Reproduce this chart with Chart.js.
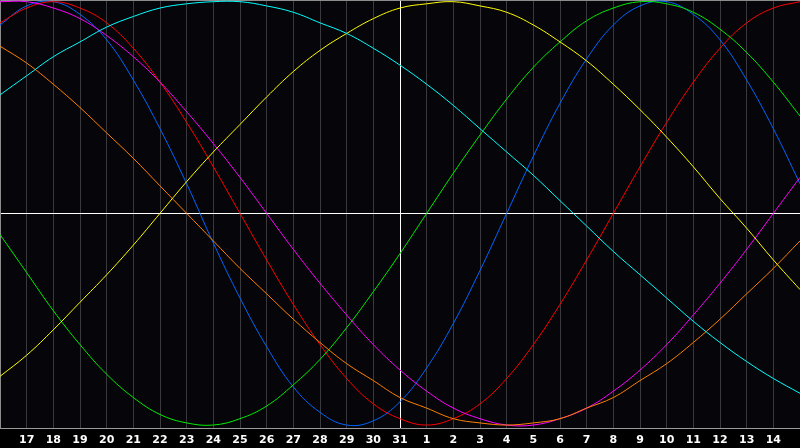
<!DOCTYPE html>
<html lang="en">
<head>
  <meta charset="UTF-8" />
  <title>Biorhythm</title>
  <script src="https://cdn.jsdelivr.net/npm/chart.js"></script>
  <style>
    html, body { margin: 0; padding: 0; background: #000; }
    canvas { display: block; }
  </style>
</head>
<body>
  <canvas id="bioChart" width="800" height="448"></canvas>

  <script>
    // day labels under the grid, today (31) sits in the middle
    const dayLabels = ['17','18','19','20','21','22','23','24','25','26','27','28','29','30','31',
                       '1','2','3','4','5','6','7','8','9','10','11','12','13','14'];
    const todayIndex = 14;

    // values per day, first point is the day before "17", last the day after "14"
    const physical = [0.89, 0.98, 1.00, 0.94, 0.82, 0.63, 0.40, 0.14, -0.14, -0.40, -0.63, -0.82, -0.94, -1.00, -0.98, -0.89,
                      -0.73, -0.52, -0.27, 0.00, 0.27, 0.52, 0.73, 0.89, 0.98, 1.00, 0.94, 0.82, 0.63, 0.40, 0.14];
    const emotional = [0.90, 0.97, 1.00, 0.97, 0.90, 0.78, 0.62, 0.43, 0.22, 0.00, -0.22, -0.43, -0.62, -0.78, -0.90, -0.97,
                       -1.00, -0.97, -0.90, -0.78, -0.62, -0.43, -0.22, 0.00, 0.22, 0.43, 0.62, 0.78, 0.90, 0.97, 1.00];
    const intellectual = [-0.10, -0.28, -0.46, -0.62, -0.76, -0.87, -0.95, -0.99, -1.00, -0.97, -0.91, -0.81, -0.69, -0.54, -0.37, -0.19,
                          0.00, 0.19, 0.37, 0.54, 0.69, 0.81, 0.91, 0.97, 1.00, 0.99, 0.95, 0.87, 0.76, 0.62, 0.46];
    const aesthetic = [-0.77, -0.67, -0.55, -0.42, -0.29, -0.15, 0.00, 0.15, 0.29, 0.42, 0.55, 0.67, 0.77, 0.85, 0.92, 0.97,
                       0.99, 1.00, 0.98, 0.95, 0.89, 0.81, 0.72, 0.61, 0.49, 0.36, 0.22, 0.07, -0.07, -0.22, -0.36];
    const spiritual = [0.56, 0.65, 0.74, 0.81, 0.88, 0.93, 0.97, 0.99, 1.00, 1.00, 0.98, 0.95, 0.90, 0.85, 0.78, 0.70,
                       0.61, 0.51, 0.40, 0.29, 0.18, 0.06, -0.06, -0.18, -0.29, -0.40, -0.51, -0.61, -0.70, -0.78, -0.85];
    const intuitive = [1.00, 1.00, 0.97, 0.92, 0.84, 0.74, 0.62, 0.48, 0.33, 0.17, 0.00, -0.17, -0.33, -0.48, -0.62, -0.74,
                       -0.84, -0.92, -0.97, -1.00, -1.00, -0.97, -0.92, -0.84, -0.74, -0.62, -0.48, -0.33, -0.17, 0.00, 0.17];
    const awareness = [0.79, 0.71, 0.61, 0.50, 0.38, 0.26, 0.13, 0.00, -0.13, -0.26, -0.38, -0.50, -0.61, -0.71, -0.79, -0.87,
                       -0.92, -0.97, -0.99, -1.00, -0.99, -0.97, -0.92, -0.87, -0.79, -0.71, -0.61, -0.50, -0.38, -0.26, -0.13];

    const series = [
      { name: 'Spiritual', values: spiritual, color: '#00ffff' },
      { name: 'Aesthetic', values: aesthetic, color: '#ffff00' },
      { name: 'Awareness', values: awareness, color: '#ff8000' },
      { name: 'Intuitive', values: intuitive, color: '#ff00ff' },
      { name: 'Intellectual', values: intellectual, color: '#00ee00' },
      { name: 'Emotional', values: emotional, color: '#ff0000' },
      { name: 'Physical', values: physical, color: '#0066ff' }
    ];

    // background + frame, drawn with the chart area from the scales
    const framePlugin = {
      id: 'frame',
      beforeDraw(chart) {
        const { ctx, chartArea: a } = chart;
        ctx.save();
        ctx.fillStyle = '#000';
        ctx.fillRect(0, 0, chart.width, chart.height);
        ctx.fillStyle = '#060509';
        ctx.fillRect(a.left, a.top, a.right - a.left, a.bottom - a.top);
        ctx.restore();
      },
      beforeDatasetsDraw(chart) {
        const { ctx, chartArea: a } = chart;
        ctx.save();
        ctx.strokeStyle = '#8c8c8c';
        ctx.lineWidth = 1;
        ctx.beginPath();
        ctx.moveTo(a.left + 0.5, a.bottom);
        ctx.lineTo(a.left + 0.5, a.top + 0.5);
        ctx.lineTo(a.right, a.top + 0.5);
        ctx.stroke();
        ctx.restore();
      }
    };

    const ctx = document.getElementById('bioChart').getContext('2d');
    const bioChart = new Chart(ctx, {
      type: 'line',
      data: {
        datasets: series.map(s => ({
          label: s.name,
          data: s.values.map((v, i) => ({ x: i - 1, y: v })),
          borderColor: s.color,
          borderWidth: 1,
          pointRadius: 0,
          fill: false,
          tension: 0.4
        }))
      },
      options: {
        responsive: false,
        animation: false,
        devicePixelRatio: 1,
        layout: { padding: 0 },
        plugins: { legend: { display: false }, tooltip: { enabled: false } },
        scales: {
          x: {
            type: 'linear',
            min: -1,
            max: 29,
            afterBuildTicks: s => { s.ticks = dayLabels.map((_, i) => ({ value: i })); },
            afterFit: s => { s.height = 20; },
            ticks: {
              autoSkip: false,
              maxRotation: 0,
              padding: 6,
              color: '#ffffff',
              font: { family: 'DejaVu Sans', size: 11, weight: 'bold' },
              callback: v => dayLabels[v] ?? ''
            },
            grid: {
              drawTicks: false,
              lineWidth: 1,
              color: c => c.tick && c.tick.value === todayIndex ? '#ffffff' : '#3a3a3e'
            },
            border: { display: true, color: '#9a9a9a', width: 1 }
          },
          y: {
            type: 'linear',
            min: -1.014,
            max: 1.008,
            afterBuildTicks: s => { s.ticks = [{ value: 0 }]; },
            afterFit: s => { s.width = 0; },
            ticks: { display: false },
            grid: { drawTicks: false, color: '#ffffff', lineWidth: 1 },
            border: { display: false }
          }
        }
      },
      plugins: [framePlugin]
    });
  </script>
</body>
</html>
